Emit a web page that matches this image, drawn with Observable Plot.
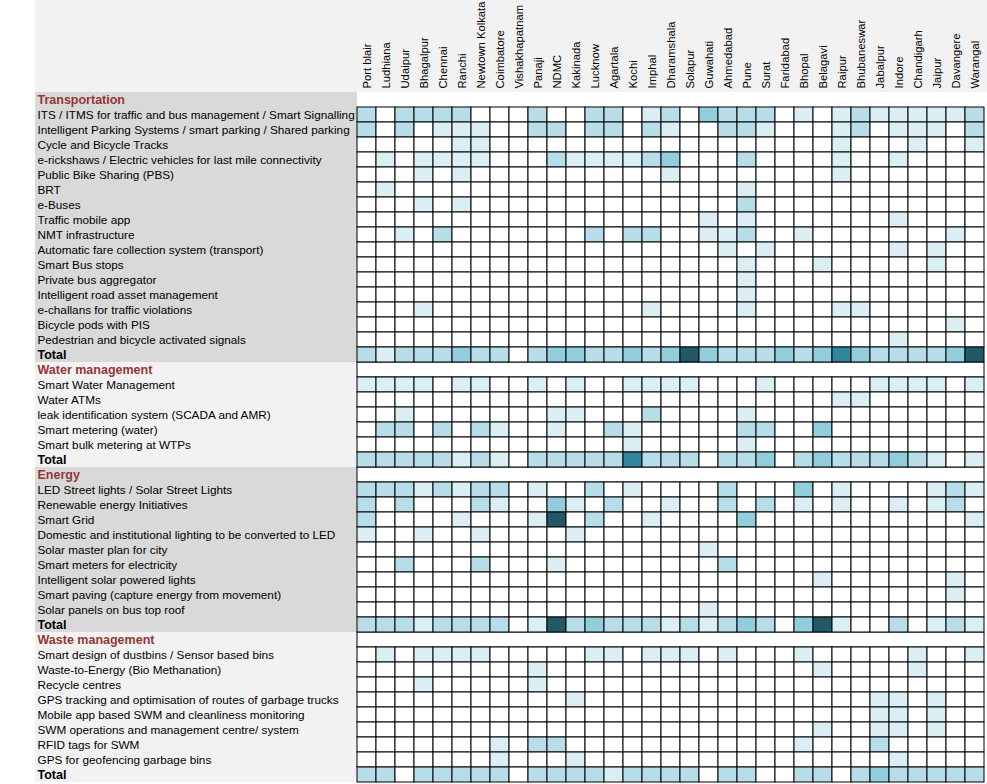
<!DOCTYPE html>
<html><head><meta charset="utf-8">
<script src="https://cdn.jsdelivr.net/npm/d3@7"></script>
<script src="https://cdn.jsdelivr.net/npm/@observablehq/plot@0.6"></script>
<style>body{margin:0;background:#fff}#chart{width:987px;height:784px}</style>
</head><body><div id="chart"></div><script>
const cities = ["Port blair","Ludhiana","Udaipur","Bhagalpur","Chennai","Ranchi","Newtown Kolkata","Coimbatore","Vishakhapatnam","Panaji","NDMC","Kakinada","Lucknow","Agartala","Kochi","Imphal","Dharamshala","Solapur","Guwahati","Ahmedabad","Pune","Surat","Faridabad","Bhopal","Belagavi","Raipur","Bhubaneswar","Jabalpur","Indore","Chandigarh","Jaipur","Davangere","Warangal"];

// level 0 = none ... 5 = highest
const levelColors = ["#ffffff","#daeef3","#b7dee8","#92cddc","#31859c","#215967"];

const transportItems = ["ITS / ITMS for traffic and bus management / Smart Signalling","Intelligent Parking Systems / smart parking / Shared parking","Cycle and Bicycle Tracks","e-rickshaws / Electric vehicles for last mile connectivity","Public Bike Sharing (PBS)","BRT","e-Buses","Traffic mobile app","NMT infrastructure","Automatic fare collection system (transport)","Smart Bus stops","Private bus aggregator","Intelligent road asset management","e-challans for traffic violations","Bicycle pods with PIS","Pedestrian and bicycle activated signals"];
const transportValues = [
 [2,0,2,2,2,2,0,0,0,2,0,0,2,2,0,1,2,0,3,2,2,2,0,1,0,1,2,1,1,1,1,1,2],
 [2,0,2,0,1,1,1,0,0,2,2,0,2,2,0,2,1,0,0,2,2,1,0,0,0,1,2,0,1,1,1,0,2],
 [0,0,0,0,0,1,1,0,0,0,0,0,0,0,0,0,0,0,0,0,0,0,0,0,0,1,0,0,0,1,0,0,1],
 [0,1,0,1,1,1,1,0,0,0,2,1,1,1,1,2,3,0,0,0,2,0,0,0,0,1,0,0,1,0,0,0,0],
 [0,0,0,1,0,1,0,0,0,0,0,0,0,0,0,0,1,0,0,0,0,0,0,0,0,1,0,0,0,0,0,0,0],
 [0,1,0,0,0,0,0,0,0,0,0,0,0,0,0,0,0,0,0,0,1,0,0,0,0,0,0,0,0,0,0,0,0],
 [0,0,0,1,0,1,0,0,0,0,0,0,0,0,0,0,0,0,0,0,2,0,0,0,0,0,0,0,0,0,0,0,0],
 [0,0,0,0,0,0,0,0,0,0,0,0,0,0,0,0,0,0,1,0,1,0,0,0,0,0,0,0,1,0,0,0,0],
 [0,0,1,0,2,0,0,0,0,0,0,0,2,0,2,2,0,0,1,1,2,0,0,1,0,0,0,0,0,0,0,1,0],
 [0,0,0,0,0,0,0,0,0,0,0,0,0,0,0,0,0,0,0,1,0,1,0,0,0,0,0,0,1,0,1,0,0],
 [0,0,0,0,0,0,0,0,0,0,0,0,0,0,0,0,0,0,0,0,1,0,0,0,1,0,0,0,0,0,1,0,0],
 [0,0,0,0,0,0,0,0,0,0,0,0,0,0,0,0,0,0,0,0,1,0,0,0,0,0,0,0,0,0,0,0,0],
 [0,0,0,0,0,0,0,0,0,0,0,0,0,0,0,0,0,0,0,0,1,0,0,0,0,0,0,0,0,0,0,0,0],
 [0,0,0,1,0,0,0,0,0,0,0,0,0,0,0,1,0,0,0,0,1,0,0,0,0,1,1,0,0,0,0,0,0],
 [0,0,0,0,0,0,0,0,0,0,0,0,0,0,0,0,0,0,0,0,0,0,0,0,0,0,0,0,0,0,0,1,0],
 [0,0,0,0,0,0,0,0,0,0,0,0,0,0,0,0,0,0,0,0,0,0,0,0,0,0,0,0,1,0,0,0,0]
];
const transportTotal = [2,1,2,2,2,3,2,2,0,2,3,3,2,2,3,2,3,5,3,2,2,2,3,2,3,4,3,2,2,2,2,3,5];

const waterItems = ["Smart Water Management","Water ATMs","leak identification system (SCADA and AMR)","Smart metering (water)","Smart bulk metering at WTPs"];
const waterValues = [
 [1,1,1,1,0,1,1,0,0,1,0,1,0,0,1,1,1,1,0,0,0,1,0,0,0,0,0,1,1,1,1,0,1],
 [0,0,0,0,0,0,0,0,0,0,0,0,0,0,0,0,0,0,0,0,0,0,0,0,0,1,1,0,0,0,0,0,0],
 [0,0,1,0,0,0,0,0,0,0,1,1,0,0,0,2,0,0,0,0,1,0,0,0,0,0,0,0,0,0,0,0,0],
 [0,2,2,0,2,0,2,1,0,0,1,0,0,2,1,0,0,0,0,0,2,2,0,0,3,0,0,0,0,0,0,0,0],
 [0,0,0,0,0,0,0,0,0,0,0,0,0,0,1,0,0,0,0,0,1,0,0,0,0,0,0,0,0,0,0,0,0]
];
const waterTotal = [2,2,2,2,2,1,2,1,0,2,2,2,2,2,4,2,2,2,0,2,2,3,0,2,3,2,2,2,3,2,1,0,1];

const energyItems = ["LED Street lights / Solar Street Lights","Renewable energy Initiatives","Smart Grid","Domestic and institutional lighting to be converted to LED","Solar master plan for city","Smart meters for electricity","Intelligent solar powered lights","Smart paving (capture energy from movement)","Solar panels on bus top roof"];
const energyValues = [
 [2,2,2,1,2,1,2,2,0,1,0,0,2,0,1,0,0,0,0,2,0,0,0,3,0,1,0,0,0,0,1,2,1],
 [2,0,2,0,0,0,2,1,0,0,3,1,0,2,0,0,1,0,0,2,0,2,0,1,0,1,0,0,1,0,1,2,0],
 [2,0,0,0,0,1,0,0,0,1,5,0,2,0,0,1,0,0,0,0,3,0,0,0,0,0,0,0,0,0,0,0,1],
 [1,0,0,1,0,0,1,0,0,0,0,1,0,0,0,0,0,0,0,0,0,0,0,0,0,0,0,0,0,0,0,0,0],
 [0,0,0,0,0,0,0,0,0,0,0,0,0,0,0,0,0,0,1,0,0,0,0,0,0,0,0,0,0,0,0,0,0],
 [0,0,2,0,0,0,2,0,0,0,1,0,0,0,0,0,0,0,0,2,0,0,0,0,0,0,0,0,0,0,0,0,0],
 [0,0,0,0,0,0,0,0,0,0,0,0,0,0,0,0,0,0,0,0,0,0,0,0,1,0,0,0,0,0,0,1,0],
 [0,0,0,0,0,0,0,0,0,0,0,0,0,0,0,0,0,0,0,0,0,0,0,0,0,0,0,0,0,0,0,1,0],
 [0,0,0,0,0,0,0,0,0,0,0,0,0,0,0,0,0,0,1,0,0,0,0,0,0,0,0,0,0,0,0,0,0]
];
const energyTotal = [2,2,2,1,2,2,2,2,0,1,5,2,3,2,2,2,1,2,1,2,3,2,0,3,5,1,0,0,2,0,1,2,1];

const wasteItems = ["Smart design of dustbins / Sensor based bins","Waste-to-Energy (Bio Methanation)","Recycle centres","GPS tracking and optimisation of routes of garbage trucks","Mobile app based SWM and cleanliness monitoring","SWM operations and management centre/ system","RFID tags for SWM","GPS for geofencing garbage bins"];
const wasteValues = [
 [0,1,0,1,1,1,1,0,0,0,0,0,1,1,0,1,1,1,0,1,0,0,0,1,0,0,0,0,0,1,0,0,1],
 [0,0,0,0,0,0,0,0,0,1,0,0,0,0,0,0,0,0,0,0,0,0,0,0,1,0,0,0,0,1,0,0,0],
 [0,0,0,1,0,0,0,0,0,1,0,0,0,0,0,0,0,0,0,0,0,0,0,0,0,0,0,0,0,0,0,0,0],
 [0,0,0,0,0,0,0,0,0,0,0,1,0,0,0,0,0,0,0,0,0,0,0,0,0,0,0,1,1,0,1,0,0],
 [0,0,0,0,0,0,0,0,0,0,0,0,0,0,0,0,0,0,0,0,0,0,0,0,0,0,0,1,1,0,1,0,0],
 [0,0,0,0,0,0,0,0,0,0,0,0,0,0,0,0,0,0,0,0,0,0,0,0,1,0,0,1,1,0,1,0,0],
 [0,0,0,0,0,0,0,1,0,2,2,0,0,0,0,0,0,0,0,0,0,0,0,1,0,0,0,2,0,0,0,0,0],
 [0,0,0,0,0,0,0,1,0,0,0,1,0,0,0,0,0,0,0,0,0,0,0,0,0,0,0,0,1,0,0,0,0]
];
const wasteTotal = [2,2,0,2,2,2,2,2,0,2,2,2,2,1,2,2,2,2,0,2,2,0,0,2,2,0,2,3,2,2,2,2,2];

const sectionNames = ["Transportation","Water management","Energy","Waste management"];
const sectionShades = ["#d9d9d9","#f2f2f2","#d9d9d9","#f2f2f2"];
const sectionItems = [transportItems, waterItems, energyItems, wasteItems];
const sectionValues = [transportValues, waterValues, energyValues, wasteValues];
const sectionTotals = [transportTotal, waterTotal, energyTotal, wasteTotal];

// build table
const rows = [], cells = [], bands = [];
let rr = 0;
sectionNames.forEach((name, s) => {
  const r0 = rr;
  rows.push({r: rr++, label: name, kind: "header"});
  sectionItems[s].forEach((lab, k) => {
    const rowIndex = rr;
    sectionValues[s][k].forEach((v, c) => cells.push({r: rowIndex, c, v}));
    rows.push({r: rr++, label: lab, kind: "item"});
  });
  const totIndex = rr;
  sectionTotals[s].forEach((v, c) => cells.push({r: totIndex, c, v}));
  rows.push({r: rr++, label: "Total", kind: "total"});
  bands.push({r0, r1: rr, shade: sectionShades[s]});
});
const nRows = rr;
const nCols = cities.length;
const cellW = 19, rowH = 15, gridLeft = 357, gridTop = 92, labelLeft = 35;
const LW = (gridLeft - labelLeft) / cellW;

const chart = Plot.plot({
  width: 987, height: 784,
  marginTop: gridTop, marginBottom: 784 - gridTop - nRows*rowH, marginLeft: labelLeft, marginRight: 987 - gridLeft - nCols*cellW,
  x: {domain: [-LW, nCols], range: [labelLeft, gridLeft + nCols*cellW], axis: null},
  y: {domain: [0, nRows], range: [gridTop, gridTop + nRows*rowH], axis: null},
  color: {type: "ordinal", domain: d3.range(levelColors.length), range: levelColors},
  style: {fontFamily: "'Liberation Sans', Arial, sans-serif", fontSize: "11px", background: "transparent"},
  marks: [
    Plot.rect([0], {x1: -LW, x2: nCols + 0.2, y1: -gridTop/rowH, y2: 0, fill: "#f2f2f2"}),
    Plot.rect(bands, {x1: -LW, x2: 0, y1: "r0", y2: "r1", fill: "shade"}),
    Plot.rect(rows.filter(d => d.kind === "header" && d.r > 0), {x1: 0, x2: nCols, y1: "r", y2: d => d.r + 1, fill: "white", stroke: "black"}),
    Plot.rect(rows.filter(d => d.kind === "header" && d.r === 0), {x1: 0, x2: nCols, y1: "r", y2: d => d.r + 1, fill: "white"}),
    Plot.rect(cells, {x1: "c", x2: d => d.c + 1, y1: "r", y2: d => d.r + 1, fill: "v", stroke: "black", strokeWidth: 1}),
    Plot.text(rows.filter(d => d.kind === "item"), {x: -LW, y: d => d.r + 0.5, text: "label", textAnchor: "start", dx: 2, fill: "black", fontSize: 11.75}),
    Plot.text(rows.filter(d => d.kind === "total"), {x: -LW, y: d => d.r + 0.5, text: "label", textAnchor: "start", dx: 2, fill: "black", fontWeight: "bold", fontSize: 12.5}),
    Plot.text(rows.filter(d => d.kind === "header"), {x: -LW, y: d => d.r + 0.5, text: "label", textAnchor: "start", dx: 2, fill: "#953735", fontWeight: "bold", fontSize: 12.5}),
    Plot.text(cities, {x: (d, i) => i + 0.5, y: 0, text: d => d, rotate: -90, textAnchor: "start", dy: -4, fontSize: 11.25})
  ]
});
document.getElementById("chart").append(chart);
</script></body></html>
